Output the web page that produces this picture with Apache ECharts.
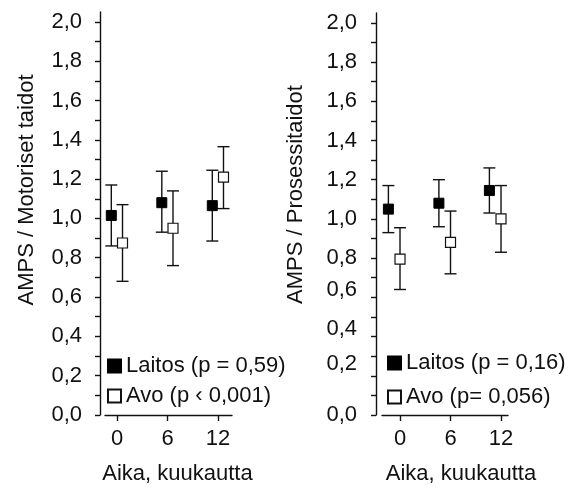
<!DOCTYPE html>
<html>
<head>
<meta charset="utf-8">
<script src="https://cdn.jsdelivr.net/npm/echarts@6/dist/echarts.min.js"></script>
<style>
  html, body { margin: 0; padding: 0; background: #fff; }
  .EC { width: 569px; height: 490px; }
</style>
</head>
<body>
<div class="EC"></div>
<script>
// Months on the x axis
const months = [0, 6, 12]

// Left panel: AMPS / Motoriset taidot
const motorLaitos = [1.015, 1.08, 1.065]
const motorLaitosLow = [0.86, 0.93, 0.885]
const motorLaitosHigh = [1.17, 1.24, 1.245]
const motorAvo = [0.875, 0.95, 1.21]
const motorAvoLow = [0.68, 0.76, 1.05]
const motorAvoHigh = [1.07, 1.14, 1.365]

// Right panel: AMPS / Prosessitaidot
const procLaitos = [1.05, 1.08, 1.145]
const procLaitosLow = [0.93, 0.96, 1.03]
const procLaitosHigh = [1.17, 1.20, 1.26]
const procAvo = [0.795, 0.88, 1.0]
const procAvoLow = [0.64, 0.72, 0.83]
const procAvoHigh = [0.955, 1.04, 1.17]

// Legend names
const motorNames = ['Laitos (p = 0,59)', 'Avo (p \u2039 0,001)']
const procNames = ['Laitos (p = 0,16)', 'Avo (p= 0,056)']

// Tick values
const xTicks = [0, 6, 12]
const yTicks = [0, 0.1, 0.2, 0.3, 0.4, 0.5, 0.6, 0.7, 0.8, 0.9, 1.0, 1.1, 1.2, 1.3, 1.4, 1.5, 1.6, 1.7, 1.8, 1.9, 2.0]
const yLabels = [0, 0.2, 0.4, 0.6, 0.8, 1.0, 1.2, 1.4, 1.6, 1.8, 2.0]

window.onload = () => {
    let EC = echarts.init(document.querySelector('.EC'))
    const ink = '#111'
    const font = 'Liberation Sans'
    const fs = 22

    // horizontal dodge of the two groups (in months)
    const dodge = [
        { laitos: -0.68, avo: 0.65 },
        { laitos: -1.38, avo: 0 }
    ]
    // some labels of the right panel sit a bit higher in the original
    const labelLift = { '0.6': 7, '0.4': 8, '0.2': 12 }

    const fmt = v => Number(v).toFixed(1).replace('.', ',')

    const pts = (vals, shift) => months.map((m, i) => [m + shift, vals[i]])
    const bars = (lo, hi, shift) => months.map((m, i) => [m + shift, lo[i], hi[i]])

    const errorBar = (params, api) => {
        const x = api.value(0)
        const top = api.coord([x, api.value(2)])
        const bot = api.coord([x, api.value(1)])
        const w = 6
        const style = { stroke: ink, lineWidth: 1.4 }
        return {
            type: 'group',
            children: [
                { type: 'line', shape: { x1: top[0], y1: top[1], x2: bot[0], y2: bot[1] }, style },
                { type: 'line', shape: { x1: top[0] - w, y1: top[1], x2: top[0] + w, y2: top[1] }, style },
                { type: 'line', shape: { x1: bot[0] - w, y1: bot[1], x2: bot[0] + w, y2: bot[1] }, style }
            ]
        }
    }

    const xAxis = (gridIndex, min, max) => ({
        type: 'value',
        gridIndex,
        min,
        max,
        name: 'Aika, kuukautta',
        nameLocation: 'middle',
        nameGap: 48,
        nameTextStyle: { color: ink, fontSize: fs, fontFamily: font, padding: gridIndex ? [0, 0, 0, 32] : [0, 0, 0, 18] },
        axisLine: { onZero: false, lineStyle: { color: ink, width: 1.4 } },
        axisTick: { customValues: xTicks, length: 6, lineStyle: { color: ink, width: 1.4 } },
        axisLabel: { customValues: xTicks, margin: 13, color: ink, fontSize: fs, fontFamily: font },
        splitLine: { show: false }
    })

    const yAxis = (gridIndex, name, offset, gap, lift, lifted) => {
        const rich = {}
        if (lifted) {
            Object.keys(labelLift).forEach(k => {
                rich['l' + k.replace('.', '')] = { padding: [0, 0, labelLift[k] * 2, 0], color: ink, fontSize: fs, fontFamily: font }
            })
        }
        return {
            type: 'value',
            gridIndex,
            min: 0,
            max: 2.05,
            offset,
            name,
            nameLocation: 'middle',
            nameGap: gap,
            nameTextStyle: { color: ink, fontSize: fs, fontFamily: font, padding: [0, 0, 0, lift] },
            axisLine: { show: true, onZero: false, lineStyle: { color: ink, width: 1.4 } },
            axisTick: { show: true, customValues: yTicks, length: 5, lineStyle: { color: ink, width: 1.4 } },
            axisLabel: {
                customValues: yLabels,
                margin: gridIndex ? 19 : 18,
                color: ink,
                fontSize: fs,
                fontFamily: font,
                rich,
                formatter: v => {
                    const key = Number(v).toFixed(1)
                    if (lifted && labelLift[key]) return '{l' + key.replace('.', '') + '|' + fmt(v) + '}'
                    return fmt(v)
                }
            },
            splitLine: { show: false }
        }
    }

    const filled = { color: '#000', borderColor: '#000', borderWidth: 1, opacity: 1 }
    const open = { color: '#fff', borderColor: ink, borderWidth: 1.2, opacity: 1 }

    const scatter = (name, idx, data, itemStyle) => ({
        name,
        type: 'scatter',
        xAxisIndex: idx,
        yAxisIndex: idx,
        symbol: 'rect',
        symbolSize: 10,
        z: 5,
        itemStyle,
        emphasis: { disabled: true },
        data
    })
    const whisker = (idx, data) => ({
        type: 'custom',
        xAxisIndex: idx,
        yAxisIndex: idx,
        renderItem: errorBar,
        encode: { x: 0, y: [1, 2] },
        z: 2,
        silent: true,
        data
    })

    const legend = (names, left, top, itemGap) => ({
        orient: 'vertical',
        left,
        top,
        padding: 0,
        itemGap,
        itemWidth: 13,
        itemHeight: 13,
        icon: 'rect',
        selectedMode: false,
        textStyle: { color: ink, fontSize: fs, fontFamily: font },
        data: names
    })

    let option = {
        backgroundColor: '#fff',
        animation: false,
        grid: [
            { left: 105, right: 337, top: 12, bottom: 68 },
            { left: 382, right: 61, top: 13, bottom: 67 }
        ],
        legend: [
            legend(motorNames, 107, 355, 8),
            legend(procNames, 387, 352, 12)
        ],
        xAxis: [xAxis(0, -1.43, 13.66), xAxis(1, -2.14, 12.83)],
        yAxis: [
            yAxis(0, 'AMPS / Motoriset taidot', 5, 62, 47, false),
            yAxis(1, 'AMPS / Prosessitaidot', 6, 69, 39, true)
        ],
        series: [
            whisker(0, bars(motorLaitosLow, motorLaitosHigh, dodge[0].laitos)),
            whisker(0, bars(motorAvoLow, motorAvoHigh, dodge[0].avo)),
            whisker(1, bars(procLaitosLow, procLaitosHigh, dodge[1].laitos)),
            whisker(1, bars(procAvoLow, procAvoHigh, dodge[1].avo)),
            scatter(motorNames[0], 0, pts(motorLaitos, dodge[0].laitos), filled),
            scatter(motorNames[1], 0, pts(motorAvo, dodge[0].avo), open),
            scatter(procNames[0], 1, pts(procLaitos, dodge[1].laitos), filled),
            scatter(procNames[1], 1, pts(procAvo, dodge[1].avo), open)
        ]
    }
    EC.setOption(option)
}
</script>
</body>
</html>
